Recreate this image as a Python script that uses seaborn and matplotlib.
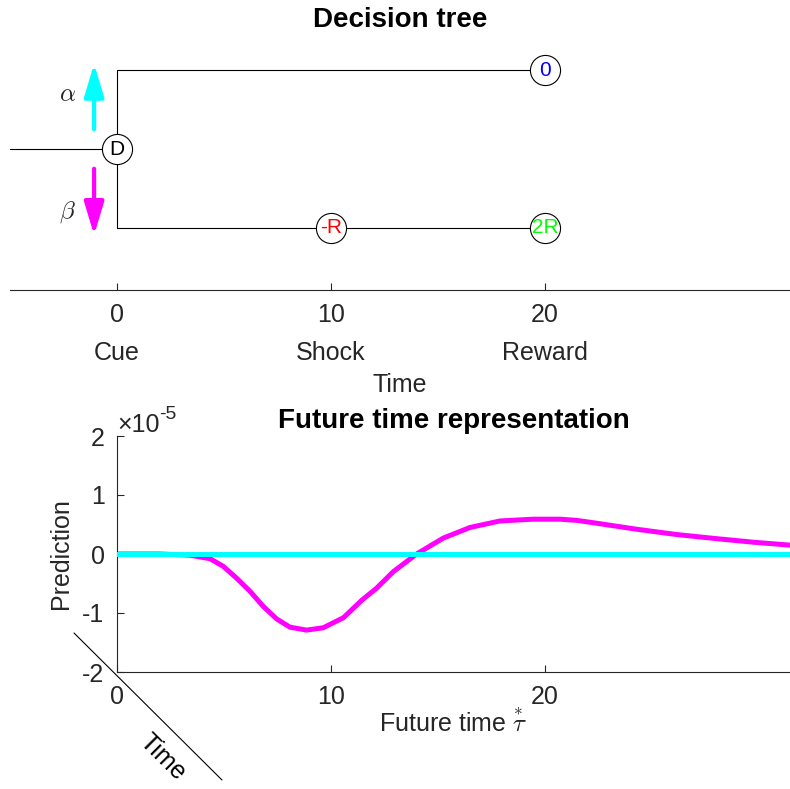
import numpy as np
import matplotlib
matplotlib.use('Agg')
import matplotlib.pyplot as plt
import seaborn as sns
from matplotlib.lines import Line2D

# --- data ---
# decision tree nodes
node_x = [0, 20, 10, 20]
node_y = [0, 1, -1, -1]
node_labels = ['D', '0', '-R', '2R']
node_colors = ['black', '#0000ff', '#ff0000', '#00ff00']

# tree branches (x pairs, y pairs)
branch_x = [(-5, 0), (0, 0), (0, 20), (0, 20)]
branch_y = [(0, 0), (-1, 1), (1, 1), (-1, -1)]

tree_ticks = [0, 10, 20]
tree_ticklabels = ['0\nCue', '10\nShock', '20\nReward']

# future time representation (prediction in units of 1e-5)
tau = [0, 2.0, 3.41, 4.35, 4.97, 5.59, 6.21, 6.84, 7.46, 8.08, 8.86, 9.64,
       10.58, 11.45, 12.13, 12.91, 14.0, 15.25, 16.5, 17.9, 19.45, 20.7,
       21.48, 22.26, 24.28, 26.15, 28.02, 29.73, 31.45]
pred_beta = [0, 0, -0.02, -0.08, -0.21, -0.41, -0.63, -0.89, -1.10, -1.24,
             -1.29, -1.25, -1.08, -0.78, -0.58, -0.30, 0.0, 0.27, 0.45, 0.56,
             0.59, 0.59, 0.57, 0.53, 0.42, 0.33, 0.26, 0.20, 0.15]
pred_alpha = [0] * len(tau)
pred_ticks = [-2, -1, 0, 1, 2]
scale = 1e-5

sns.set_style('white')
plt.rcParams['font.family'] = ['Liberation Sans', 'DejaVu Sans']
plt.rcParams['axes.unicode_minus'] = False
axcol = '#262626'

fig = plt.figure(figsize=(7.9, 7.89), dpi=100)

# ---------------- decision tree ----------------
ax1 = fig.add_axes([10 / 790, 1 - 290 / 789, 780 / 790, 250 / 789])
for bx, by in zip(branch_x, branch_y):
    ax1.plot(bx, by, color='black', lw=0.8, zorder=1)
ax1.scatter(node_x, node_y, s=470, facecolor='white', edgecolor='black',
            linewidth=0.8, zorder=2)
for x, y, lab, c in zip(node_x, node_y, node_labels, node_colors):
    ax1.text(x, y, lab, color=c, ha='center', va='center', fontsize=15, zorder=3)

ax1.annotate('', xy=(-1.07, 1.08), xytext=(-1.07, 0.25),
             arrowprops=dict(arrowstyle='-|>,head_length=1.0,head_width=0.3',
                             color='#00ffff', lw=3, mutation_scale=20,
                             shrinkA=0, shrinkB=0))
ax1.annotate('', xy=(-1.07, -1.09), xytext=(-1.07, -0.25),
             arrowprops=dict(arrowstyle='-|>,head_length=1.0,head_width=0.3',
                             color='#ff00ff', lw=3, mutation_scale=20,
                             shrinkA=0, shrinkB=0))
ax1.text(-2.3, 0.70, r'$\alpha$', fontsize=18, ha='center', va='center',
         math_fontfamily='cm')
ax1.text(-2.3, -0.80, r'$\beta$', fontsize=18, ha='center', va='center',
         math_fontfamily='cm')

ax1.set_xlim(-5, 31.45)
ax1.set_ylim(-1.785, 1.38)
for s in ['top', 'right', 'left']:
    ax1.spines[s].set_visible(False)
ax1.spines['bottom'].set_color(axcol)
ax1.spines['bottom'].set_linewidth(0.8)
ax1.set_yticks([])
ax1.set_xticks(tree_ticks)
ax1.set_xticklabels(tree_ticklabels, linespacing=1.75)
ax1.tick_params(axis='x', direction='in', length=5, width=0.8, pad=9,
                labelsize=18, colors=axcol, bottom=True)
ax1.set_xlabel('Time', fontsize=18, color=axcol, labelpad=6)
ax1.set_title('Decision tree', fontsize=20, fontweight='bold', pad=9,
              color='black')

# ---------------- future time representation ----------------
ax2 = fig.add_axes([117 / 790, 1 - 672 / 789, 673 / 790, 236 / 789])
sns.lineplot(x=tau, y=np.array(pred_beta) * scale, ax=ax2, color='#ff00ff',
             lw=3.6, zorder=2)
sns.lineplot(x=tau, y=np.array(pred_alpha) * scale, ax=ax2, color='#00ffff',
             lw=3.6, zorder=3)
ax2.set_xlim(0, 31.45)
ax2.set_ylim(-2e-5, 2e-5)
ax2.set_xticks([0, 10, 20])
ax2.set_yticks(np.array(pred_ticks) * scale)
ax2.set_yticklabels([str(t) for t in pred_ticks])
# exponent label, MATLAB style
ax2.text(0.0, 1.018, '\u00d710', transform=ax2.transAxes, fontsize=18,
         color=axcol, ha='left', va='baseline')
ax2.text(0.063, 1.07, '-5', transform=ax2.transAxes, fontsize=14,
         color=axcol, ha='left', va='baseline')
for s in ['top', 'right']:
    ax2.spines[s].set_visible(False)
for s in ['left', 'bottom']:
    ax2.spines[s].set_color(axcol)
    ax2.spines[s].set_linewidth(0.8)
ax2.tick_params(direction='in', length=5, width=0.8, pad=9, labelsize=18,
                colors=axcol, left=True, bottom=True)
ax2.set_xlabel(r'Future time $\overset{*}{\tau}$', fontsize=18, color=axcol,
               math_fontfamily='cm')
ax2.xaxis.set_label_coords(0.5, -0.155)
ax2.set_ylabel('Prediction', fontsize=18, color=axcol)
ax2.yaxis.set_label_coords(-0.066, 0.5)
ax2.set_title('Future time representation', fontsize=20, fontweight='bold',
              pad=6, color='black')

# diagonal "Time" axis
fig.add_artist(Line2D([74 / 790, 222 / 790], [1 - 633 / 789, 1 - 780 / 789],
                      color='black', lw=0.8))
fig.text(163 / 790, 1 - 757 / 789, 'Time', rotation=-45, fontsize=18,
         ha='center', va='center', color='black')

fig.savefig('out.png', dpi=100)
